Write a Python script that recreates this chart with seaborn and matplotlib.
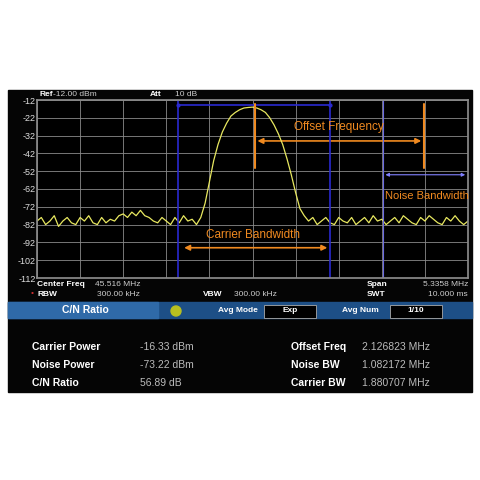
import matplotlib
matplotlib.use("Agg")
import matplotlib.pyplot as plt
import seaborn as sns
import numpy as np
from matplotlib.patches import Rectangle, FancyArrowPatch

sns.set_theme(style="dark")
plt.rcParams['font.family'] = ['Liberation Sans', 'DejaVu Sans']

# trace in grid divisions (0..10) and dBm
trace_div = [i / 10 for i in range(101)]
trace_dbm = [-80, -78, -82, -80, -77, -83, -80, -78, -81, -82,
             -78, -80, -77, -81, -82, -78, -81, -79, -80, -77,
             -76, -78, -75, -77, -74, -77, -78, -80, -81, -78,
             -80, -82, -78, -81, -77, -80, -79, -82, -78, -70,
             -58, -46, -37, -30, -25, -21, -19, -17.5, -16.5, -16.2,
             -16, -16.5, -17.5, -19, -22, -26, -31, -37, -45, -54,
             -64, -73, -77, -80, -78, -82, -80, -78, -81, -82,
             -78, -80, -81, -78, -82, -80, -78, -81, -77, -80,
             -79, -82, -80, -78, -81, -77, -79, -81, -82, -78,
             -80, -77, -79, -81, -82, -78, -80, -77, -80, -82, -80]
y_ticks = [-12, -22, -32, -42, -52, -62, -72, -82, -92, -102, -112]

info_left = [("Carrier Power", "-16.33 dBm"), ("Noise Power", "-73.22 dBm"), ("C/N Ratio", "56.89 dB")]
info_right = [("Offset Freq", "2.126823 MHz"), ("Noise BW", "1.082172 MHz"), ("Carrier BW", "1.880707 MHz")]

fig = plt.figure(figsize=(4.8, 4.8), dpi=100, facecolor="white")
W = H = 480.0
def fx(x): return x / W
def fy(y): return 1 - y / H

fig.patches.append(Rectangle((fx(8), fy(392)), fx(464), 302 / H, transform=fig.transFigure, color="#050505", zorder=0))
fig.patches.append(Rectangle((fx(8), fy(318)), fx(464), 16 / H, transform=fig.transFigure, color="#1d4f86", zorder=1))
fig.patches.append(Rectangle((fx(8), fy(318)), fx(150), 16 / H, transform=fig.transFigure, color="#2f6aa8", zorder=1))

ax = fig.add_axes([fx(37), fy(278), fx(431), 178 / H])
ax.set_zorder(5)
ax.set_facecolor("black")
sns.lineplot(x=trace_div, y=trace_dbm, ax=ax, color="#e8e860", lw=0.9)
ax.set_xlim(0, 10)
ax.set_ylim(-112, -12)
ax.set_xticks(range(11))
ax.set_yticks(y_ticks)
ax.set_xticklabels([])
ax.set_yticklabels([str(t) for t in y_ticks], color="#dddddd", fontsize=6.5)
ax.tick_params(length=0, pad=1)
ax.grid(True, color="#8a8a8a", lw=0.6)
ax.set_xlabel(""); ax.set_ylabel("")
for s in ax.spines.values():
    s.set_color("#8a8a8a")

blue = "#2a2ad0"
for xv in [3.27, 6.8]:
    ax.axvline(xv, color=blue, lw=1.2)
ax.axvline(8.02, color="#6a6ae0", lw=0.8)
ax.plot([3.27, 6.8], [-15, -15], color=blue, lw=1.2, marker="o", ms=2)
orange = "#f08a20"
for xv in [5.05, 8.98]:
    ax.plot([xv, xv], [-14, -50], color=orange, lw=1.5)
ax.add_patch(FancyArrowPatch((5.05, -35), (8.98, -35), arrowstyle="<|-|>", mutation_scale=8, color=orange, lw=1.2))
ax.text(7.0, -27, "Offset Frequency", color=orange, fontsize=8.5, ha="center", va="center")
ax.add_patch(FancyArrowPatch((8.02, -54), (10, -54), arrowstyle="<|-|>", mutation_scale=5, color="#8080ff", lw=0.8))
ax.text(9.05, -66, "Noise Bandwidth", color=orange, fontsize=8, ha="center", va="center")
ax.add_patch(FancyArrowPatch((3.35, -95), (6.8, -95), arrowstyle="<|-|>", mutation_scale=8, color=orange, lw=1.2))
ax.text(5.0, -88, "Carrier Bandwidth", color=orange, fontsize=8.5, ha="center", va="center")

def t(x, y, s, **kw):
    kw.setdefault("color", "white"); kw.setdefault("fontsize", 6)
    fig.text(fx(x), fy(y), s, va="center", zorder=6, **kw)

t(40, 95, "Ref", fontweight="bold"); t(53, 95, "-12.00 dBm", color="#cccccc")
t(150, 95, "Att", fontweight="bold"); t(175, 95, "10 dB", color="#cccccc")
t(37, 284, "Center Freq", fontweight="bold"); t(95, 284, "45.516 MHz", color="#cccccc")
t(367, 284, "Span", fontweight="bold"); t(468, 284, "5.3358 MHz", color="#cccccc", ha="right")
t(31, 294, "•", color="#d03030"); t(37, 294, "RBW", fontweight="bold"); t(97, 294, "300.00 kHz", color="#cccccc")
t(203, 294, "VBW", fontweight="bold"); t(234, 294, "300.00 kHz", color="#cccccc")
t(367, 294, "SWT", fontweight="bold"); t(468, 294, "10.000 ms", color="#cccccc", ha="right")
t(85, 310, "C/N Ratio", fontweight="bold", fontsize=7.5, ha="center")
fig.patches.append(plt.Circle((fx(176), fy(311)), 5 / W, transform=fig.transFigure, color="#b8c020", zorder=2))
t(238, 311, "Avg Mode", fontweight="bold", ha="center")
fig.patches.append(Rectangle((fx(264), fy(318)), fx(52), 13 / H, transform=fig.transFigure, fc="black", ec="#aaaaaa", lw=0.6, zorder=2))
t(290, 311, "Exp", fontweight="bold", ha="center")
t(360, 311, "Avg Num", fontweight="bold", ha="center")
fig.patches.append(Rectangle((fx(390), fy(318)), fx(52), 13 / H, transform=fig.transFigure, fc="black", ec="#aaaaaa", lw=0.6, zorder=2))
t(416, 311, "1/10", fontweight="bold", ha="center")

for i, (k, v) in enumerate(info_left):
    y = 347 + i * 18
    t(32, y, k, fontweight="bold", fontsize=7.5)
    t(140, y, v, color="#bbbbbb", fontsize=7.5)
for i, (k, v) in enumerate(info_right):
    y = 347 + i * 18
    t(291, y, k, fontweight="bold", fontsize=7.5)
    t(362, y, v, color="#bbbbbb", fontsize=7.5)

fig.savefig("out.png", dpi=100, facecolor="white")
